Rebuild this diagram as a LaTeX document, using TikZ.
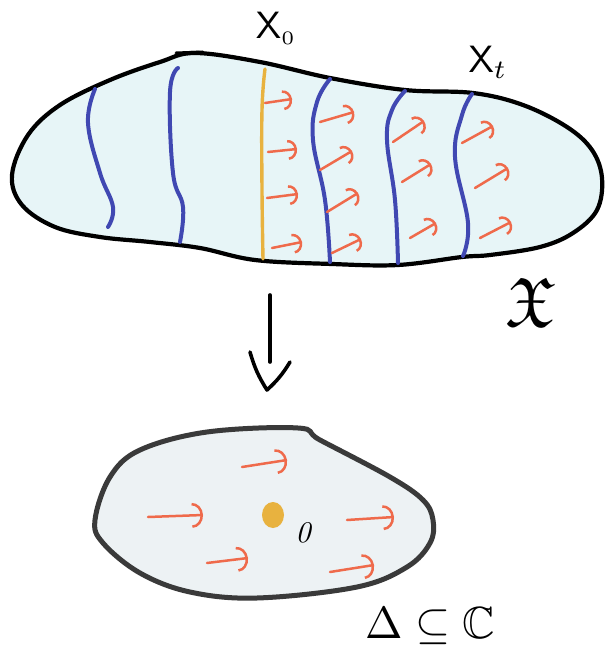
\documentclass[tikz,border=0pt]{standalone}
\usepackage{amssymb}
\usepackage{tikz}
\usetikzlibrary{arrows.meta}

\definecolor{fibreblue}{HTML}{4048B2}
\definecolor{fibreyellow}{HTML}{E8B23F}
\definecolor{flowred}{HTML}{EF6A4B}
\definecolor{familyfill}{HTML}{E7F5F7}
\definecolor{discfill}{HTML}{EDF2F4}
\definecolor{discline}{HTML}{3A3A3A}

\begin{document}
\begin{tikzpicture}[x=1pt,y=-1pt,
  outline/.style={line width=4.2pt, line join=round},
  fibre/.style={draw=fibreblue, line width=4pt, line cap=round},
  centralfibre/.style={draw=fibreyellow, line width=3.4pt, line cap=round},
  flow/.style={draw=flowred, line width=2.5pt, line cap=round,
    -{Arc Barb[length=9pt,width=20pt,line width=2.5pt]}},
  bigflow/.style={draw=flowred, line width=2.5pt, line cap=round,
    -{Arc Barb[length=11pt,width=25pt,line width=2.5pt]}},
  hand/.style={scale=3.8, inner sep=0pt}]
\useasboundingbox (0,0) rectangle (605,650);
\fill[white] (0,0) rectangle (605,650);

% total space
\draw[outline, fill=familyfill] plot[smooth cycle, tension=0.6] coordinates {
  (12,175) (28,135) (60,105) (110,80) (160,62) (195,53) (260,62) (330,78)
  (405,90) (473,93) (523,105) (567,127) (592,150) (602,178) (597,210)
  (573,233) (540,247) (490,255) (462,257) (398,265) (332,264) (255,260)
  (200,248) (150,242) (100,237) (55,227) (22,205)};
\draw[line width=3pt, line cap=round] (176,53) -- (203,52);

% fibres
\draw[fibre] plot[smooth, tension=0.7] coordinates {(95,89) (88,123) (100,173) (113,207) (108,227)};
\draw[fibre] plot[smooth, tension=0.7] coordinates {(178,68) (170,92) (173,173) (183,207) (180,242)};
\draw[centralfibre] plot[smooth, tension=0.7] coordinates {(265,69) (262,110) (262,190) (263,259)};
\draw[fibre] plot[smooth, tension=0.7] coordinates {(330,79) (317,102) (313,140) (325,200) (330,262)};
\draw[fibre] plot[smooth, tension=0.7] coordinates {(405,91) (392,110) (387,140) (395,200) (398,263)};
\draw[fibre] plot[smooth, tension=0.7] coordinates {(472,94) (462,115) (455,157) (468,223) (463,256)};

% flow on the total space
\foreach \sx/\sy/\ex/\ey in {265/103/292/99, 268/152/297/149, 267/198/298/194, 272/248/302/242,
  320/122/354/112, 320/170/352/151, 327/212/358/193, 332/253/361/239,
  393/142/424/121, 402/182/431/164, 410/238/436/223,
  462/143/493/126, 475/188/508/168, 480/238/511/222}
  \draw[flow] (\sx,\sy) -- (\ex,\ey);

\node[hand] (xzero) at (276,28) {$\mathsf{X}_{\scriptscriptstyle 0}$};
\node[hand] (xt) at (488,62) {$\mathsf{X}_{t}$};
\node[inner sep=0pt, scale=7] (total) at (531,302) {$\mathfrak{X}$};

% projection
\coordinate (maptop) at (270,295);
\coordinate (mapend) at (270,362);
\coordinate (headl) at (250,352);
\coordinate (headtip) at (267,390);
\coordinate (headr) at (290,362);
\draw[line width=3.6pt, line cap=round] (maptop) -- (mapend);
\draw[line width=3.6pt, line cap=round, line join=round] (headl) to[bend right=8] (headtip) to[bend right=8] (headr);

% base disc
\draw[draw=discline, line width=5pt, fill=discfill] plot[smooth cycle, tension=0.6] coordinates {
  (95,520) (110,477) (140,450) (207,432) (298,428) (320,440) (390,477)
  (423,500) (433,520) (430,543) (407,567) (357,587) (257,598) (190,592)
  (140,573) (103,543)};
\fill[fibreyellow] (273,515) ellipse [x radius=11, y radius=13];
\node[inner sep=0pt, scale=3, font=\itshape] (origin) at (303,533) {0};

\foreach \sx/\sy/\ex/\ey in {242/467/287/460, 148/517/203/515, 207/563/248/558,
  347/520/394/517, 330/572/374/565}
  \draw[bigflow] (\sx,\sy) -- (\ex,\ey);

\node[inner sep=0pt, scale=4.5] (base) at (430,626) {$\Delta \subseteq \mathbb{C}$};
\end{tikzpicture}
\end{document}
